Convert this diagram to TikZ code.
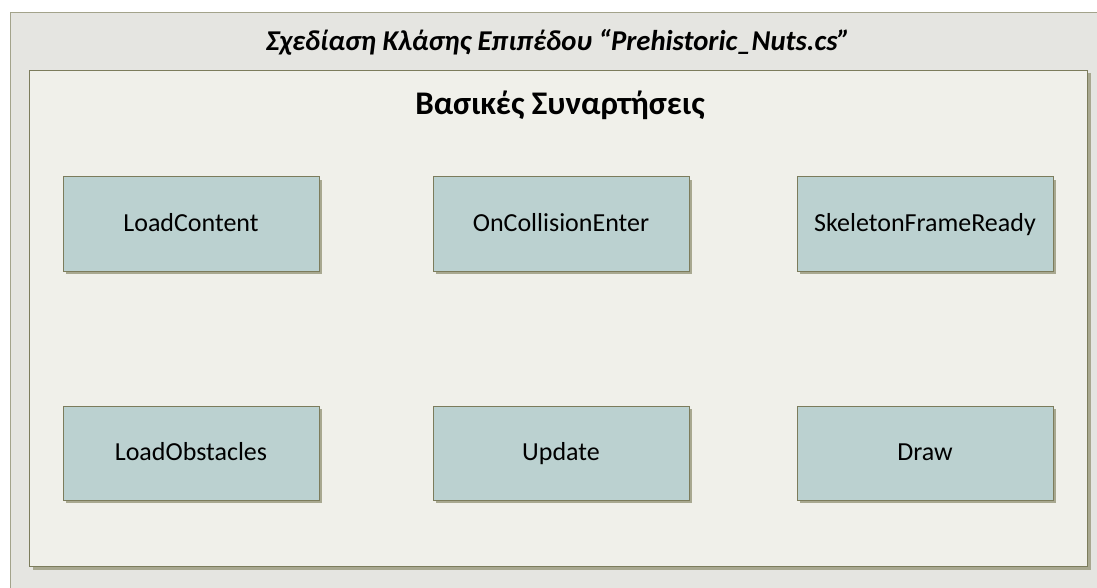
\documentclass[tikz,border=0pt]{standalone}
\usepackage{fontspec}
\setmainfont{Carlito}
\usepackage{tikz}
\usetikzlibrary{positioning,shadows}
\definecolor{panelgray}{HTML}{E5E5E1}
\definecolor{framegray}{HTML}{A3A38B}
\definecolor{innerfill}{HTML}{F0F0EA}
\definecolor{funcfill}{HTML}{BBD1D0}
\definecolor{funcline}{HTML}{7C7C5C}
\definecolor{shadowgray}{HTML}{A8A890}
\begin{document}
\begin{tikzpicture}[x=1pt,y=-1pt,
  func/.style={draw=funcline,fill=funcfill,line width=1pt,minimum width=256pt,minimum height=94pt,
    font=\fontsize{26}{30}\selectfont,text height=18pt,text depth=4pt,
    drop shadow={shadow xshift=3pt,shadow yshift=-3pt,fill=shadowgray,opacity=1}}]
\useasboundingbox (0,0) rectangle (1097,588);
\clip (0,0) rectangle (1097,588);
\fill[white] (0,0) rectangle (1097,588);
% outer frame and title
\node[draw=framegray,fill=panelgray,line width=1.2pt,anchor=north west,minimum width=1100pt,minimum height=590pt] (panel) at (10,12) {};
\node[font=\fontsize{28.7}{32}\selectfont\bfseries\itshape] (title) at (558,42) {Σχεδίαση Κλάσης Επιπέδου “Prehistoric\_Nuts.cs”};
% inner frame
\node[draw=funcline,fill=innerfill,line width=1pt,anchor=north west,minimum width=1058pt,minimum height=496pt,
  drop shadow={shadow xshift=3pt,shadow yshift=-3pt,fill=shadowgray,opacity=1}] (group) at (29,70) {};
\node[font=\fontsize{33}{36}\selectfont\bfseries] (heading) at (560,105) {Βασικές Συναρτήσεις};
% functions
\node[func] (loadcontent) at (191,224) {LoadContent};
\node[func] (collision) at (561,224) {OnCollisionEnter};
\node[func] (skeleton) at (925,224) {SkeletonFrameReady};
\node[func] (obstacles) at (191,453) {LoadObstacles};
\node[func] (update) at (561,453) {Update};
\node[func] (drawfn) at (925,453) {Draw};
\end{tikzpicture}
\end{document}
